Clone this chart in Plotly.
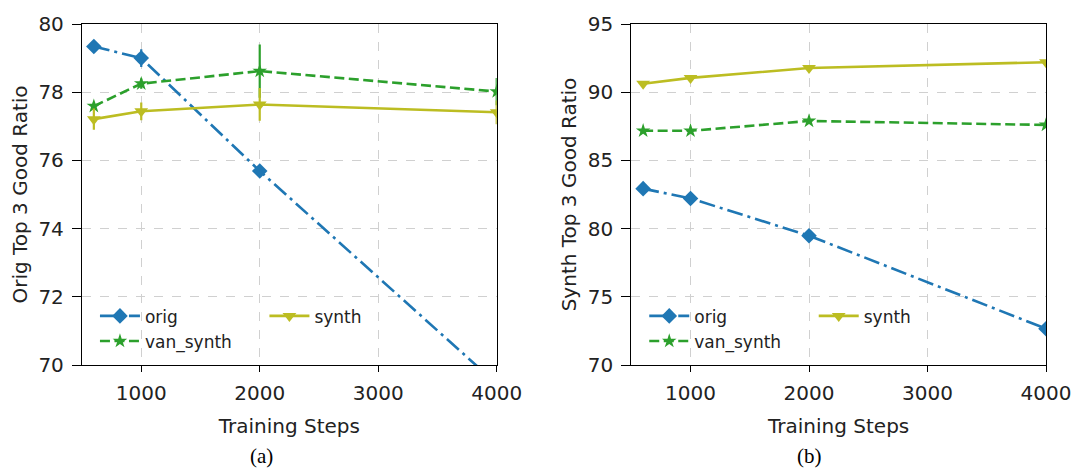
import plotly.graph_objects as go

steps = [600, 1000, 2000, 4000]

# (a) Orig Top 3 Good Ratio
a_orig = [79.34, 79.00, 75.69, 69.45]
a_orig_err = [0.10, 0.26, 0.15, 0.20]
a_van = [77.59, 78.25, 78.62, 78.02]
a_van_err = [0.10, 0.15, 0.78, 0.40]
a_synth = [77.21, 77.44, 77.64, 77.41]
a_synth_err = [0.31, 0.26, 0.48, 0.35]

# (b) Synth Top 3 Good Ratio
b_orig = [82.93, 82.21, 79.48, 72.66]
b_orig_err = [0.15, 0.15, 0.20, 0.25]
b_van = [87.17, 87.17, 87.89, 87.60]
b_van_err = [0.15, 0.15, 0.15, 0.15]
b_synth = [90.62, 91.05, 91.77, 92.20]
b_synth_err = [0.15, 0.15, 0.15, 0.15]

x_ticks = [1000, 2000, 3000, 4000]
a_yticks = [70, 72, 74, 76, 78, 80]
b_yticks = [70, 75, 80, 85, 90, 95]

BLUE = "#1f77b4"
GREEN = "#2ca02c"
OLIVE = "#bcbd22"

DASHDOT = "16px,5px,3px,5px"
DASHED = "10px,4.5px"

W, H = 1083, 470
ML, MR, MT, MB = 82, 34, 17, 105
PW = W - ML - MR
PH = H - MT - MB


def px2x(px):
    return (px - ML) / PW


def py2y(py):
    return (H - MB - py) / PH


fig = go.Figure()


def add_series(x, y, err, name, color, dash, symbol, msize, xa, ya, legend):
    fig.add_trace(go.Scatter(
        x=x, y=y, name=name, mode="lines+markers",
        line=dict(color=color, width=2.6, dash=dash),
        marker=dict(color=color, symbol=symbol, size=msize, line=dict(width=0)),
        error_y=dict(type="data", array=err, visible=True, color=color,
                     thickness=2.2, width=0),
        xaxis=xa, yaxis=ya, legend=legend, showlegend=True,
    ))


add_series(steps, a_orig, a_orig_err, "orig", BLUE, DASHDOT, "diamond", 12, "x", "y", "legend")
add_series(steps, a_van, a_van_err, "van_synth", GREEN, DASHED, "star", 11, "x", "y", "legend")
add_series(steps, a_synth, a_synth_err, "synth", OLIVE, "solid", "triangle-down", 12, "x", "y", "legend2")

add_series(steps, b_orig, b_orig_err, "orig", BLUE, DASHDOT, "diamond", 12, "x2", "y2", "legend3")
add_series(steps, b_van, b_van_err, "van_synth", GREEN, DASHED, "star", 11, "x2", "y2", "legend3")
add_series(steps, b_synth, b_synth_err, "synth", OLIVE, "solid", "triangle-down", 12, "x2", "y2", "legend4")

left_dom = [0, (498 - ML) / PW]
right_dom = [(633 - ML) / PW, 1]

axis_common = dict(
    showline=True, linecolor="black", linewidth=1.3, mirror=True,
    ticks="outside", tickwidth=1.2, tickcolor="black",
    showgrid=True, gridcolor="#d0d0d0", griddash="dash", gridwidth=1,
    zeroline=False, tickfont=dict(size=20, color="#222"),
)
xcommon = dict(ticklen=6, ticklabelstandoff=4, **axis_common)
ycommon = dict(ticklen=9, ticklabelstandoff=4, **axis_common)

fig.update_layout(
    width=W, height=H,
    margin=dict(l=ML, r=MR, t=MT, b=MB),
    plot_bgcolor="white", paper_bgcolor="white",
    font=dict(family="DejaVu Sans", color="#222"),
    xaxis=dict(domain=left_dom, range=[500, 4000], tickvals=x_ticks, anchor="y",
               title=dict(text="Training Steps", font=dict(size=20), standoff=14), **xcommon),
    yaxis=dict(domain=[0, 1], range=[70, 80], tickvals=a_yticks, anchor="x",
               title=dict(text="Orig Top 3 Good Ratio", font=dict(size=20), standoff=5), **ycommon),
    xaxis2=dict(domain=right_dom, range=[500, 4000], tickvals=x_ticks, anchor="y2",
                title=dict(text="Training Steps", font=dict(size=20), standoff=14), **xcommon),
    yaxis2=dict(domain=[0, 1], range=[70, 95], tickvals=b_yticks, anchor="x2",
                title=dict(text="Synth Top 3 Good Ratio", font=dict(size=20), standoff=5), **ycommon),
)

leg_common = dict(bgcolor="rgba(255,255,255,0)", font=dict(size=17, color="#222"),
                  yanchor="top", xanchor="left", tracegroupgap=0, itemwidth=40)
fig.update_layout(
    legend=dict(x=px2x(95), y=py2y(297), **leg_common),
    legend2=dict(x=px2x(265), y=py2y(297), **leg_common),
    legend3=dict(x=px2x(646), y=py2y(297), **leg_common),
    legend4=dict(x=px2x(816), y=py2y(297), **leg_common),
)

for txt, px in [("(a)", 262), ("(b)", 812)]:
    fig.add_annotation(text=txt, x=px2x(px), y=py2y(458), xref="paper", yref="paper",
                       showarrow=False, font=dict(family="Liberation Serif", size=21, color="black"),
                       xanchor="center", yanchor="middle")

fig.write_html("out.html")
